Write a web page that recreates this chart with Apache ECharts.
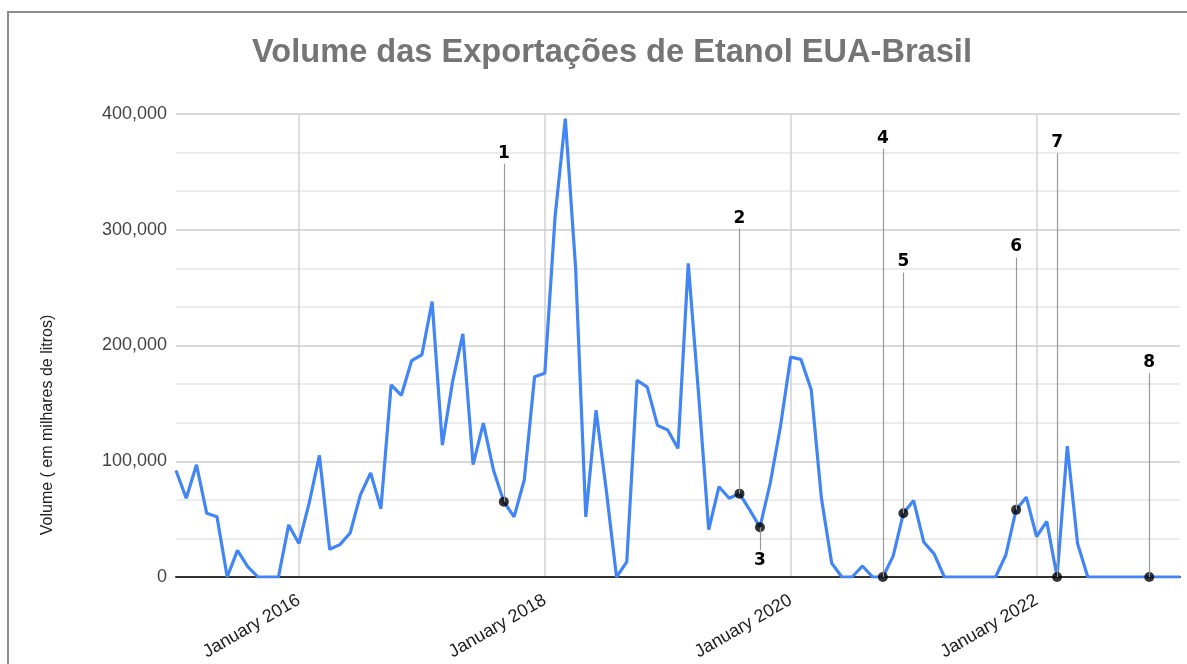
<!DOCTYPE html>
<html lang="pt">
<head>
  <meta charset="UTF-8">
  <title>Volume das Exportações de Etanol EUA-Brasil</title>
  <script src="https://cdn.jsdelivr.net/npm/echarts@6/dist/echarts.min.js"></script>
  <style>
    body { margin: 0; background: #fff; overflow: hidden; }
    #frame { position: absolute; left: 7px; top: 11px; width: 1300px; height: 800px;
             border-left: 2px solid #8c8c8c; border-top: 2px solid #8c8c8c; }
    #echarts { position: absolute; left: 0; top: 0; width: 1187px; height: 664px; }
  </style>
</head>
<body>
  <div id="frame"></div>
  <div id="echarts"></div>
  <script>
    // meses de jan/2015 a mar/2023
    const monthNames = ['January', 'February', 'March', 'April', 'May', 'June',
      'July', 'August', 'September', 'October', 'November', 'December']
    const months = []
    for (let y = 2015; y <= 2023; y++) {
      for (let m = 0; m < 12; m++) {
        if (y === 2023 && m > 2) break
        months.push(monthNames[m] + ' ' + y)
      }
    }

    // volume (mil litros)
    const volume = [
      92000, 68000, 97000, 55000, 52000, 0, 23000, 9000, 0, 0, 0, 45000,
      29000, 64000, 105000, 24000, 28000, 38000, 71000, 90000, 59000, 166000, 157000, 187000,
      192000, 238000, 114000, 169000, 210000, 97000, 133000, 92000, 65000, 52000, 84000, 173000,
      176000, 311000, 396000, 268000, 52000, 144000, 75000, 0, 13000, 170000, 164000, 131000,
      127000, 111000, 271000, 159000, 41000, 78000, 68000, 72000, 58000, 43000, 81000, 130000,
      190000, 188000, 162000, 68000, 12000, 0, 0, 9500, 0, 0, 18000, 55000,
      66000, 30000, 20000, 0, 0, 0, 0, 0, 0, 19000, 58000, 69000,
      35000, 48000, 0, 113000, 29000, 0, 0, 0, 0, 0, 0, 0,
      0, 0, 0
    ]

    // anotações: rótulo, índice do mês, fim da linha guia
    const noteLabels = ['1', '2', '3', '4', '5', '6', '7', '8']
    const noteIndex = [32, 55, 57, 69, 71, 82, 86, 95]
    const noteEnd = [357000, 301000, 23000, 370000, 263000, 276000, 366000, 176000]

    const yTicks = [0, 100000, 200000, 300000, 400000]

    const font = 'Liberation Sans, Arial, sans-serif'
    const chart = echarts.init(document.querySelector('#echarts'))

    const option = {
      animation: false,
      title: {
        text: 'Volume das Exportações de Etanol EUA-Brasil',
        left: 247,
        top: 32,
        textStyle: { fontFamily: font, fontSize: 32.6, fontWeight: 'bold', color: '#757575' }
      },
      grid: { left: 176, right: 7, top: 114, bottom: 87 },
      xAxis: {
        type: 'category',
        data: months,
        boundaryGap: false,
        axisLine: { lineStyle: { color: '#333', width: 2 } },
        axisTick: { show: false },
        axisLabel: {
          interval: i => i % 24 === 12,
          rotate: 30,
          margin: 22,
          fontFamily: font,
          fontSize: 18,
          color: '#222'
        },
        splitLine: {
          show: true,
          interval: i => i % 24 === 12,
          lineStyle: { color: '#d0d0d0', width: 1.5 }
        }
      },
      yAxis: {
        type: 'value',
        min: yTicks[0],
        max: yTicks[yTicks.length - 1],
        interval: 100000,
        axisLine: { show: false },
        axisTick: { show: false },
        axisLabel: {
          margin: 9,
          fontFamily: font,
          fontSize: 18,
          color: '#444',
          formatter: v => v.toLocaleString('en-US')
        },
        splitLine: { lineStyle: { color: '#cccccc', width: 1.5 } },
        minorTick: { show: false, splitNumber: 3 },
        minorSplitLine: { show: true, lineStyle: { color: '#e6e6e6', width: 1.5 } }
      },
      graphic: [{
        type: 'text',
        x: 48,
        y: 425,
        rotation: Math.PI / 2,
        style: {
          text: 'Volume ( em milhares de litros)',
          fontFamily: font,
          fontSize: 16,
          fill: '#222',
          align: 'center',
          verticalAlign: 'middle'
        }
      }],
      series: [
        {
          type: 'line',
          data: volume,
          showSymbol: false,
          lineStyle: { color: '#4285f4', width: 3.2 },
          z: 2
        },
        {
          type: 'scatter',
          data: noteIndex.map(i => [i, volume[i]]),
          symbolSize: 10,
          itemStyle: { color: '#000' },
          z: 4,
          markLine: {
            silent: true,
            symbol: ['none', 'none'],
            lineStyle: { color: '#999', width: 1.2, type: 'solid' },
            label: {
              show: true,
              position: 'end',
              distance: 2,
              formatter: '{b}',
              fontFamily: 'DejaVu Sans, sans-serif',
              fontWeight: 'bold',
              fontSize: 17,
              color: '#000'
            },
            data: noteIndex.map((i, k) => [
              { name: noteLabels[k], coord: [i, volume[i]] },
              { coord: [i, noteEnd[k]] }
            ])
          }
        }
      ]
    }
    chart.setOption(option)
  </script>
</body>
</html>
